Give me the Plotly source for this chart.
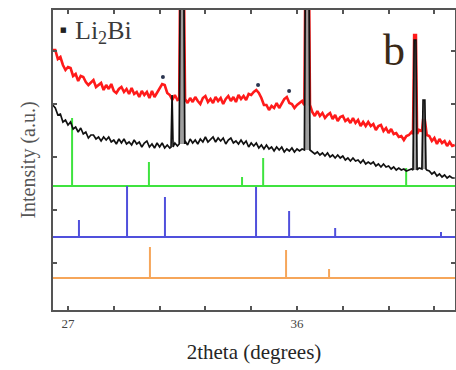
import plotly.graph_objects as go

# ---- measured patterns, sampled every 0.1 degree from 26.4 to 42.2 ----
# (None marks samples hidden under a peak)
theta_start, theta_step = 26.4, 0.1

red_bg = [260, 260, 251, 253, 245, 240,
          243, 242, 234, 236, 229, 234, 233, 228, 225, 228,
          230, 223, 225, 227, 220, 225, 221, 226, 219, 217,
          221, 223, 218, 221, 216, 222, 216, 218, 213, 219,
          215, 218, 212, 219, 213, 217, 221, 226, 225, 217,
          215, 210, 215, 210, None, None, 211, 207, 212, 208,
          213, 209, 206, 212, 214, 208, 211, 207, 213, 209,
          212, 206, 211, 214, 209, 213, 208, 215, 211, 214,
          210, 216, 215, 218, 220, 217, 212, 205, 205, 200,
          204, 202, 207, 202, 207, 211, 213, 207, 206, 202,
          205, 207, 209, 206, None, 200, 198, 194, 199, 194,
          197, 192, 195, 197, 191, 195, 189, 193, 194, 189,
          191, 187, 192, 187, 190, 184, 188, 184, 188, 184,
          186, 180, 184, 185, 179, 182, 177, 181, 176, 177,
          173, 174, 170, 174, 175, 178, None, None, 180, 179,
          None, 175, 174, 169, 172, 166, 171, 167, 169, 164,
          168, 164, 165]

black_bg = [205, 202, 195, 196, 188, 190,
            185, 188, 181, 183, 178, 182, 176, 178, 172, 175,
            175, 171, 173, 169, 173, 170, 173, 168, 170, 166,
            171, 167, 171, 166, 168, 165, 170, 166, 168, 163,
            167, 169, 163, 166, 162, 167, 163, 167, 162, 165,
            162, None, 167, 164, None, None, 169, 165, 171, 167,
            170, 166, 171, 168, 173, 168, 171, 173, 168, 172,
            169, 172, 166, 170, 172, 167, 169, 166, 170, 166,
            169, 163, 167, 164, 167, 162, 165, 161, 165, 161,
            163, 159, 163, 160, 163, 158, 161, 159, 162, 158,
            161, 159, 161, 160, None, 159, 158, 156, 158, 155,
            157, 154, 157, 153, 155, 152, 155, 152, 154, 150,
            152, 149, 152, 149, 150, 147, 150, 146, 148, 146,
            148, 144, 146, 143, 146, 143, 144, 141, 143, 140,
            142, 140, 141, 139, 140, 141, None, None, 142, 141,
            None, 140, 139, 136, 138, 134, 136, 133, 135, 132,
            134, 132, 132]

# ---- diffraction peaks ----
peak_pos = [31.09, 31.48, 36.40, 40.64, 40.99]
peak_foot = [0.04, 0.11, 0.11, 0.08, 0.08]    # half-width at the foot
peak_tip = [0.0, 0.07, 0.07, 0.035, 0.035]    # half-width at the tip
black_peak_top = [215, 340, 340, 270, 210]
black_peak_base = [163, 166, 160, 140, 141]
red_peak_top = [None, 340, 340, 275, 190]
red_peak_base = [None, 211, 205, 176, 178]
peak_shaded = [False, True, True, True, True]

# ---- Li2Bi reflections marked on the red pattern ----
li2bi_pos = [30.73, 34.47, 35.69]
li2bi_int = [233, 225, 219]

# ---- reference stick patterns: offset and relative intensities ----
green_offset = 124
green_pos = [27.16, 30.18, 33.84, 34.67, 40.29]
green_int = [68, 24, 9, 28, 18]

blue_offset = 73
blue_pos = [27.43, 29.32, 30.81, 34.39, 35.69, 37.50, 41.66]
blue_int = [17, 51, 40, 50, 26, 9, 5]

orange_offset = 32
orange_pos = [30.22, 35.57, 37.26]
orange_int = [31, 28, 9]

x_range = [26.41, 42.21]
y_range = [0, 300]
x_labelled = [27, 36]
x_minor = [28.8, 30.6, 32.4, 34.2, 37.8, 39.6, 41.4]
y_ticks = [47, 100, 153, 206, 259]

SERIF = "Liberation Serif, Times New Roman, serif"
two_theta = [round(theta_start + theta_step * i, 1) for i in range(len(red_bg))]


def with_peaks(xs, ys, tops, bases):
    """Merge a sampled background with its narrow diffraction peaks."""
    spans = [(c - f, c + f) for c, f, t in zip(peak_pos, peak_foot, tops) if t is not None]
    pts = [(x, y) for x, y in zip(xs, ys)
           if y is not None and not any(lo <= x <= hi for lo, hi in spans)]
    for c, f, t_w, top, base in zip(peak_pos, peak_foot, peak_tip, tops, bases):
        if top is None:
            continue
        pts += [(c - f, base), (c - t_w, top), (c + t_w, top), (c + f, base)]
    pts.sort(key=lambda p: p[0])
    return [p[0] for p in pts], [p[1] for p in pts]


def sticks(pos, ints, offset):
    xs, ys = [], []
    for p, h in zip(pos, ints):
        xs += [p, p, None]
        ys += [offset, offset + h, None]
    return xs, ys


fig = go.Figure()

# reference patterns
for pos, ints, off, col in [(green_pos, green_int, green_offset, "#3fe33f"),
                            (blue_pos, blue_int, blue_offset, "#5050dc"),
                            (orange_pos, orange_int, orange_offset, "#f6a65a")]:
    fig.add_trace(go.Scatter(x=x_range, y=[off, off], mode="lines",
                             line=dict(color=col, width=2.2), hoverinfo="skip"))
    sx, sy = sticks(pos, ints, off)
    fig.add_trace(go.Scatter(x=sx, y=sy, mode="lines",
                             line=dict(color=col, width=2), hoverinfo="skip"))

# red pattern
rx, ry = with_peaks(two_theta, red_bg, red_peak_top, red_peak_base)
fig.add_trace(go.Scatter(x=rx, y=ry, mode="lines",
                         line=dict(color="#ff1a1a", width=2.6)))

# shaded bodies of the strong peaks
for c, f, t_w, top, base, shaded in zip(peak_pos, peak_foot, peak_tip,
                                        black_peak_top, black_peak_base, peak_shaded):
    if not shaded:
        continue
    fig.add_trace(go.Scatter(x=[c - f, c - t_w, c + t_w, c + f],
                             y=[base, top, top, base], mode="lines", fill="toself",
                             fillcolor="rgba(135,135,135,0.8)",
                             line=dict(color="rgba(0,0,0,0)", width=0),
                             hoverinfo="skip"))

# black pattern
bx, by = with_peaks(two_theta, black_bg, black_peak_top, black_peak_base)
fig.add_trace(go.Scatter(x=bx, y=by, mode="lines",
                         line=dict(color="#111111", width=1.7)))

# Li2Bi markers
fig.add_trace(go.Scatter(x=li2bi_pos, y=li2bi_int, mode="markers",
                         marker=dict(color="#2b3550", size=4, symbol="circle")))

fig.add_annotation(x=0.025, y=0.932, xref="paper", yref="paper",
                   xanchor="center", yanchor="middle", showarrow=False,
                   text="■", font=dict(family="DejaVu Sans", size=7, color="#222222"))
fig.add_annotation(x=0.05, y=0.927, xref="paper", yref="paper",
                   xanchor="left", yanchor="middle", showarrow=False,
                   text="Li<sub>2</sub>Bi",
                   font=dict(family=SERIF, size=26, color="#3a3a3a"))
fig.add_annotation(x=0.848, y=0.865, xref="paper", yref="paper",
                   xanchor="center", yanchor="middle", showarrow=False,
                   text="b", font=dict(family=SERIF, size=44, color="#3a2a18"))

axis_common = dict(showgrid=False, zeroline=False, showline=True,
                   linecolor="#555555", linewidth=2, mirror="ticks",
                   ticks="inside", ticklen=4, tickwidth=1.5, tickcolor="#555555")

fig.update_xaxes(range=x_range, tickmode="array", tickvals=x_labelled,
                 ticktext=[str(v) for v in x_labelled],
                 tickfont=dict(family=SERIF, size=13, color="#444444"),
                 minor=dict(tickmode="array", tickvals=x_minor, ticks="inside",
                            ticklen=4, tickwidth=1.5, tickcolor="#555555"),
                 title=dict(text="2theta (degrees)", standoff=15,
                            font=dict(family=SERIF, size=21, color="#262626")),
                 **axis_common)
fig.update_yaxes(range=y_range, tickvals=y_ticks, showticklabels=False,
                 title=dict(text="Intensity (a.u.)", standoff=10,
                            font=dict(family=SERIF, size=20, color="#555555")),
                 **axis_common)

fig.update_layout(width=456, height=370, showlegend=False,
                  plot_bgcolor="white", paper_bgcolor="white",
                  margin=dict(l=53, r=1, t=10, b=60, autoexpand=False))

fig.write_html("out.html")
